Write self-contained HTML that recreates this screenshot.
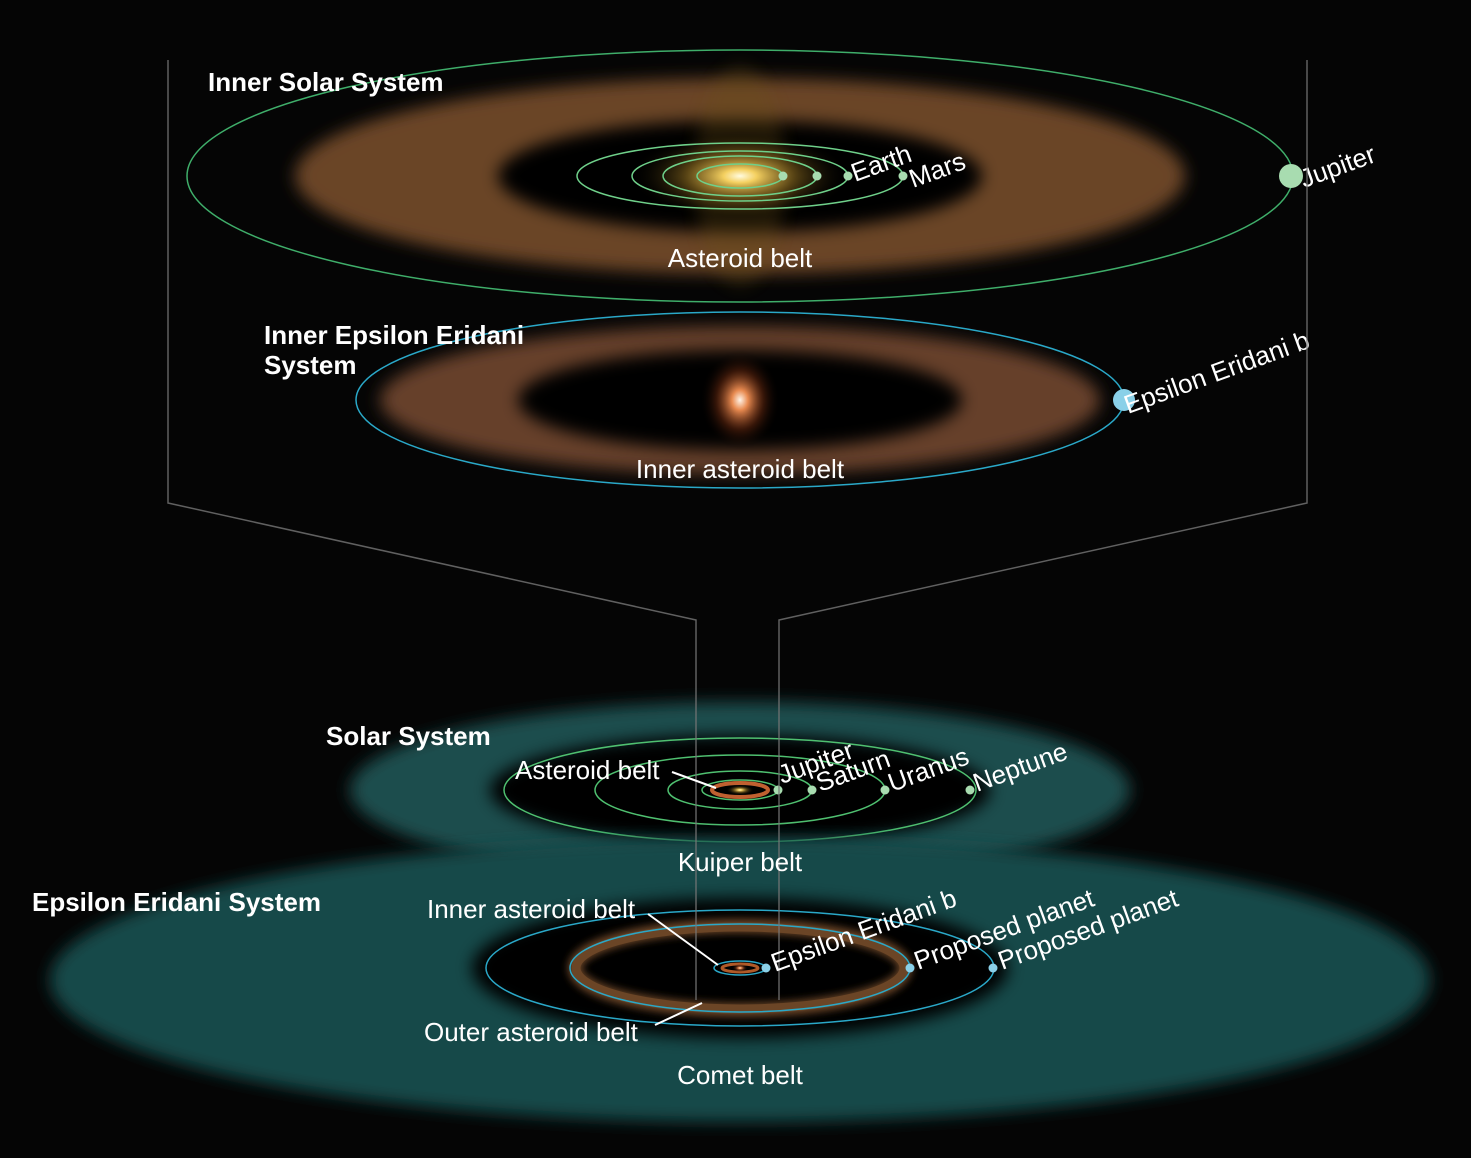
<!DOCTYPE html>
<html><head><meta charset="utf-8"><style>
html,body{margin:0;padding:0;background:#050505;}
svg{display:block}
text{font-family:"Liberation Sans",sans-serif;fill:#fff;}
</style></head><body>
<svg width="1471" height="1158" viewBox="0 0 1471 1158" xmlns="http://www.w3.org/2000/svg">
<defs>
<filter id="b6" x="-20%" y="-50%" width="140%" height="200%"><feGaussianBlur stdDeviation="8"/></filter>
<filter id="b3" x="-20%" y="-50%" width="140%" height="200%"><feGaussianBlur stdDeviation="4"/></filter>
<radialGradient id="sun" cx="50%" cy="50%" r="50%">
<stop offset="0" stop-color="#fffbe0"/><stop offset="0.15" stop-color="#f4d060"/><stop offset="0.5" stop-color="#8a6a20" stop-opacity="0.6"/><stop offset="1" stop-color="#000" stop-opacity="0"/>
</radialGradient>
<radialGradient id="star" cx="50%" cy="50%" r="50%">
<stop offset="0" stop-color="#fff4e8"/><stop offset="0.2" stop-color="#e88a50"/><stop offset="0.6" stop-color="#6a2a10" stop-opacity="0.5"/><stop offset="1" stop-color="#000" stop-opacity="0"/>
</radialGradient>
</defs>
<rect width="1471" height="1158" fill="#050505"/>

<!-- Inner Solar System -->
<ellipse cx="740" cy="176" rx="445" ry="98" fill="#6b4526" filter="url(#b6)"/>
<ellipse cx="740" cy="176" rx="242" ry="56" fill="#050505" filter="url(#b6)"/>
<ellipse cx="740" cy="176" rx="45" ry="110" fill="#6a5018" opacity="0.3" filter="url(#b6)"/>
<ellipse cx="740" cy="176" rx="110" ry="45" fill="url(#sun)"/>
<rect x="0" y="0" width="1471" height="50" fill="#050505"/>
<ellipse cx="740" cy="176" rx="553" ry="126" fill="none" stroke="#3fae6a" stroke-width="1.5"/>
<g fill="none" stroke="#6fd08a" stroke-width="1.5">
<ellipse cx="740" cy="176" rx="163" ry="33"/>
<ellipse cx="740" cy="176" rx="108" ry="25"/>
<ellipse cx="740" cy="176" rx="77" ry="20"/>
<ellipse cx="740" cy="176" rx="43" ry="12"/>
</g>
<g fill="#a8dcb0"><circle cx="783" cy="176" r="4.5"/><circle cx="817" cy="176" r="4.5"/><circle cx="848" cy="176" r="4.5"/><circle cx="903" cy="176" r="4.5"/><circle cx="1291" cy="176" r="12"/></g>
<text x="208" y="91" font-size="26" font-weight="bold">Inner Solar System</text>
<text x="740" y="267" font-size="26" text-anchor="middle">Asteroid belt</text>
<text font-size="26" transform="translate(855,182) rotate(-20)">Earth</text>
<text font-size="26" transform="translate(913,188) rotate(-20)">Mars</text>
<text font-size="26" transform="translate(1304,188) rotate(-20)">Jupiter</text>

<!-- Inner Epsilon Eridani -->
<ellipse cx="740" cy="400" rx="360" ry="74" fill="#66412a" filter="url(#b6)"/>
<ellipse cx="740" cy="400" rx="222" ry="50" fill="#050505" filter="url(#b6)"/>
<ellipse cx="740" cy="400" rx="40" ry="50" fill="url(#star)"/>
<ellipse cx="740" cy="400" rx="384" ry="88" fill="none" stroke="#2aa8c8" stroke-width="1.5"/>
<circle cx="1124" cy="400" r="11" fill="#8ad0e8"/>
<text x="264" y="344" font-size="26" font-weight="bold">Inner Epsilon Eridani</text>
<text x="264" y="374" font-size="26" font-weight="bold">System</text>
<text x="740" y="478" font-size="26" text-anchor="middle">Inner asteroid belt</text>
<text font-size="26" transform="translate(1128,414) rotate(-20)">Epsilon Eridani b</text>

<!-- Solar System -->
<ellipse cx="740" cy="790" rx="390" ry="88" fill="#1a4d4d" filter="url(#b6)"/>
<ellipse cx="740" cy="790" rx="250" ry="55" fill="#050505" filter="url(#b6)"/>
<g fill="none" stroke="#4fc070" stroke-width="1.5">
<ellipse cx="740" cy="790" rx="236" ry="52"/>
<ellipse cx="740" cy="790" rx="145" ry="35"/>
<ellipse cx="740" cy="790" rx="72" ry="19"/>
<ellipse cx="740" cy="790" rx="38" ry="10"/>
</g>
<ellipse cx="740" cy="790" rx="28" ry="7" fill="none" stroke="#c06030" stroke-width="4"/>
<ellipse cx="740" cy="790" rx="14" ry="5" fill="url(#sun)"/>
<g fill="#a8dcb0"><circle cx="778" cy="790" r="4.5"/><circle cx="812" cy="790" r="4.5"/><circle cx="885" cy="790" r="4.5"/><circle cx="970" cy="790" r="4.5"/></g>

<!-- Epsilon Eridani System -->
<ellipse cx="740" cy="980" rx="690" ry="142" fill="#194a4a" filter="url(#b6)"/>
<ellipse cx="740" cy="968" rx="268" ry="70" fill="#050505" filter="url(#b6)"/>
<ellipse cx="740" cy="968" rx="165" ry="42" fill="none" stroke="#6b4526" stroke-width="14" filter="url(#b3)"/>
<ellipse cx="740" cy="968" rx="164" ry="41" fill="none" stroke="#6b4526" stroke-width="9"/>
<g fill="none" stroke="#2aa8c8" stroke-width="1.5">
<ellipse cx="740" cy="968" rx="254" ry="58"/>
<ellipse cx="740" cy="968" rx="170" ry="44"/>
<ellipse cx="740" cy="968" rx="26" ry="7"/>
</g>
<ellipse cx="740" cy="968" rx="18" ry="4" fill="none" stroke="#b05a28" stroke-width="3"/>
<ellipse cx="740" cy="968" rx="8" ry="4" fill="url(#star)"/>
<g fill="#8ad0e8"><circle cx="766" cy="968" r="4.5"/><circle cx="910" cy="968" r="4.5"/><circle cx="993" cy="968" r="4.5"/></g>

<!-- connecting lines -->
<polyline points="168,60 168,503 696,620 696,1000" fill="none" stroke="#777" stroke-width="1.5" opacity="0.8"/>
<polyline points="1307,60 1307,503 779,620 779,1000" fill="none" stroke="#777" stroke-width="1.5" opacity="0.8"/>

<line x1="672" y1="772" x2="716" y2="788" stroke="#fff" stroke-width="2"/>
<text x="326" y="745" font-size="26" font-weight="bold">Solar System</text>
<text x="515" y="779" font-size="26">Asteroid belt</text>
<text x="740" y="871" font-size="26" text-anchor="middle">Kuiper belt</text>
<text font-size="26" transform="translate(782,784) rotate(-20)">Jupiter</text>
<text font-size="26" transform="translate(820,792) rotate(-20)">Saturn</text>
<text font-size="26" transform="translate(892,792) rotate(-20)">Uranus</text>
<text font-size="26" transform="translate(977,792) rotate(-20)">Neptune</text>

<line x1="648" y1="914" x2="718" y2="965" stroke="#fff" stroke-width="2"/>
<line x1="655" y1="1025" x2="702" y2="1003" stroke="#fff" stroke-width="2"/>
<text x="32" y="911" font-size="26" font-weight="bold">Epsilon Eridani System</text>
<text x="427" y="918" font-size="26">Inner asteroid belt</text>
<text x="424" y="1041" font-size="26">Outer asteroid belt</text>
<text x="740" y="1084" font-size="26" text-anchor="middle">Comet belt</text>
<text font-size="26" transform="translate(775,972) rotate(-20)">Epsilon Eridani b</text>
<text font-size="26" transform="translate(918,970) rotate(-20)">Proposed planet</text>
<text font-size="26" transform="translate(1002,970) rotate(-20)">Proposed planet</text>
</svg>
</body></html>
